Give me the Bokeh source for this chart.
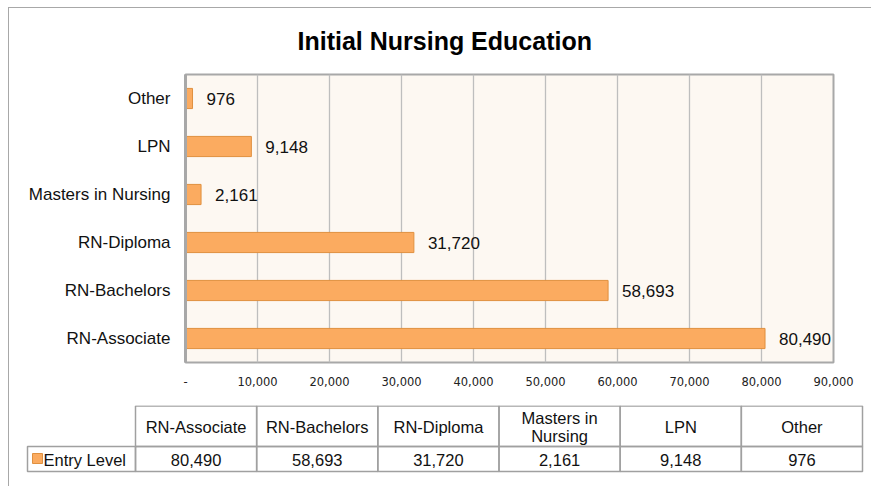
from bokeh.plotting import figure
from bokeh.models import (ColumnDataSource, FactorRange, Range1d, NumeralTickFormatter,
                          SingleIntervalTicker, Title)
from bokeh.core.properties import value
from bokeh.embed import file_html
from bokeh.resources import INLINE

# ---------------- data ----------------
categories = ["RN-Associate", "RN-Bachelors", "RN-Diploma", "Masters in Nursing", "LPN", "Other"]
entry_level = [80490, 58693, 31720, 2161, 9148, 976]
value_labels = ["80,490", "58,693", "31,720", "2,161", "9,148", "976"]
table_headers = ["RN-Associate", "RN-Bachelors", "RN-Diploma", "Masters in\nNursing", "LPN", "Other"]
series_name = "Entry Level"
title_text = "Initial Nursing Education"

FONT = "Liberation Sans"
BAR_FILL = "#FBAB60"
BAR_LINE = "#E0903F"
GRID = "#BEBEBE"
EDGE = "#A8A8A8"
W = 863

# ---------------- bar chart ----------------
src = ColumnDataSource(dict(cat=categories, val=entry_level, lab=value_labels))

p = figure(width=W, height=398, output_backend="svg", toolbar_location=None,
           y_range=FactorRange(*categories), x_range=Range1d(0, 90000),
           min_border_left=176, min_border_right=39, min_border_top=66, min_border_bottom=44,
           styles={"margin-left": "8px", "margin-top": "7px",
                   "border-top": "1px solid #A8A8A8", "border-left": "1px solid #A8A8A8"})
p.background_fill_color = "#FDF8F2"
p.border_fill_color = "white"
p.outline_line_color = EDGE
p.outline_line_width = 2

p.hbar(y="cat", right="val", left=0, height=0.42, source=src,
       fill_color=BAR_FILL, line_color=BAR_LINE, line_width=1)
p.text(x="val", y="cat", text="lab", source=src, x_offset=14, text_baseline="middle",
       text_align="left", text_font=value(FONT), text_font_size="17px", text_color="#111111")

# x axis
p.xaxis.ticker = SingleIntervalTicker(interval=10000)
p.xaxis.formatter = NumeralTickFormatter(format="0,0")
p.xaxis.major_label_overrides = {0: "-"}
p.xaxis.axis_line_color = None
p.xaxis.major_tick_line_color = None
p.xaxis.minor_tick_line_color = None
p.xaxis.major_label_text_font = "DejaVu Sans"
p.xaxis.major_label_text_font_size = "11.5px"
p.xaxis.major_label_text_color = "#222222"
p.xaxis.major_label_standoff = 8

# y axis
p.yaxis.axis_line_color = EDGE
p.yaxis.axis_line_width = 3
p.yaxis.major_tick_line_color = None
p.yaxis.minor_tick_line_color = None
p.yaxis.major_label_text_font = FONT
p.yaxis.major_label_text_font_size = "17px"
p.yaxis.major_label_text_color = "#111111"
p.yaxis.major_label_standoff = 9

p.xgrid.grid_line_color = GRID
p.xgrid.grid_line_width = 1.3
p.ygrid.grid_line_color = None

p.title = Title(text=title_text, align="left", offset=112, text_font=FONT,
                text_font_size="25px", text_font_style="bold", text_color="#000000",
                text_line_height=0.8, vertical_align="top", standoff=36)

# ---------------- data table ----------------
t = figure(width=W, height=81, output_backend="svg", toolbar_location=None,
           x_range=Range1d(0, W), y_range=Range1d(81, 0),
           min_border=0, min_border_left=0, min_border_right=0,
           min_border_top=0, min_border_bottom=0,
           styles={"margin-left": "8px", "border-left": "1px solid #A8A8A8"})
t.axis.visible = False
t.grid.visible = False
t.outline_line_color = None
t.background_fill_color = "white"
t.border_fill_color = "white"

n = len(categories)
tab_left = 126
col_w = (853 - tab_left) / n
lefts = [tab_left + i * col_w for i in range(n)]
rights = [l + col_w for l in lefts]
centers = [l + col_w / 2 for l in lefts]

TL = "#A0A0A0"
t.quad(left=lefts, right=rights, top=[0.5] * n, bottom=[41] * n,
       fill_color=None, line_color=TL, line_width=1.5)
t.quad(left=lefts, right=rights, top=[41] * n, bottom=[66] * n,
       fill_color=None, line_color=TL, line_width=1.5)
t.quad(left=[18], right=[tab_left], top=[41], bottom=[66],
       fill_color=None, line_color=TL, line_width=1.5)

t.text(x=centers, y=[21] * n, text=table_headers, text_align="center", text_baseline="middle",
       text_font=value(FONT), text_font_size="16.5px", text_color="#111111",
       text_line_height=1.0)
t.text(x=centers, y=[54] * n, text=value_labels, text_align="center", text_baseline="middle",
       text_font=value(FONT), text_font_size="16.5px", text_color="#111111")
t.rect(x=[28], y=[53], width=10, height=10, fill_color=BAR_FILL, line_color=BAR_LINE, line_width=1)
t.text(x=[34], y=[54], text=[series_name], text_align="left", text_baseline="middle",
       text_font=value(FONT), text_font_size="16.5px", text_color="#111111")

open("out.html", "w").write(file_html([p, t], INLINE))
